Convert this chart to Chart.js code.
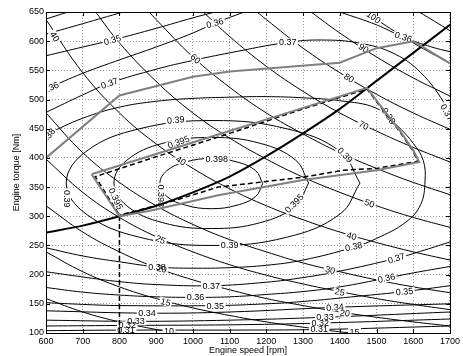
<!DOCTYPE html>
<html>
<head>
<meta charset="utf-8">
<script src="https://cdn.jsdelivr.net/npm/chart.js@4.4.1/dist/chart.umd.min.js"></script>
<style>
  html, body { margin: 0; padding: 0; background: #fff; }
  canvas { display: block; }
</style>
</head>
<body>
<canvas id="map" width="463" height="356"></canvas>
<script>
// axes
const speedTicks = [600, 700, 800, 900, 1000, 1100, 1200, 1300, 1400, 1500, 1600, 1700];
const torqueTicks = [100, 150, 200, 250, 300, 350, 400, 450, 500, 550, 600, 650];

// efficiency contours [rpm, Nm]
const eff398 = [[1190,356],[1171,378],[1120,393],[1050,399],[980,393],[929,378],[910,356],[929,334],[980,319],[1050,313],[1120,319],[1171,334],[1190,356]];
const eff395 = [[1315,357],[1280,396],[1183,425],[1050,435],[918,425],[820,396],[785,357],[820,318],[918,289],[1050,279],[1183,289],[1280,318],[1315,357]];
const eff39 = [[1455,357],[1401,411],[1255,450],[1055,464],[855,450],[709,411],[655,357],[709,304],[855,264],[1055,250],[1255,264],[1401,304],[1455,357]];
const eff38 = [[600,440],[700,468],[800,487],[900,497],[1000,502],[1100,504],[1200,505],[1300,503],[1400,498],[1500,485],[1555,456],[1600,425],[1627,396],[1632,360],[1620,320],[1580,290],[1500,262],[1438,247],[1300,225],[1200,216],[1100,212],[1000,211],[907,213],[800,222],[700,232],[600,246]];
const eff37Top = [[600,478],[700,508],[773,528],[900,552],[1000,567],[1100,580],[1258,598],[1350,602],[1450,597],[1550,578],[1630,540],[1700,480]];
const eff37Low = [[600,205],[700,196],[800,188],[900,183],[1050,181],[1200,187],[1300,195],[1400,206],[1554,228],[1620,240],[1700,256]];
const eff36Top = [[600,518],[700,545],[800,568],[900,590],[1000,614],[1060,631],[1140,650]];
const eff36Right = [[1400,650],[1500,628],[1573,607],[1650,590],[1700,582]];
const eff36Low = [[600,178],[700,170],[800,165],[900,162],[1007,161],[1100,162],[1200,166],[1300,171],[1400,179],[1527,194],[1600,203],[1700,214]];
const eff35Top = [[600,575],[700,590],[781,602],[900,622],[1000,640],[1060,650]];
const eff35Low = [[600,152],[700,149],[800,147],[1061,147],[1200,150],[1300,154],[1450,163],[1576,171],[1700,181]];
const eff34Top = [[600,612],[700,630],[810,650]];
const eff34Low = [[600,138],[875,134],[1100,136],[1387,144],[1700,150]];
const eff33Top = [[600,638],[660,650]];
const eff33Low = [[600,122],[845,120],[1100,122],[1360,127],[1700,136]];
const eff32Low = [[600,112],[821,113],[1100,114],[1347,117],[1700,124]];
const eff31Low = [[600,104],[818,105],[1100,105],[1344,106],[1700,112]];

// constant power lines [rpm, Nm], kW
const power10 = [[600,159],[700,136],[800,119],[900,106],[955,100]];
const power15 = [[600,239],[700,205],[800,179],[900,159],[1000,143],[1100,130],[1200,119],[1300,110],[1400,102],[1432,100]];
const power20 = [[600,318],[700,273],[800,239],[900,212],[1000,191],[1100,174],[1200,159],[1300,147],[1400,136],[1500,127],[1600,119],[1700,112]];
const power25 = [[600,398],[700,341],[800,298],[900,265],[1000,239],[1100,217],[1200,199],[1300,184],[1400,171],[1500,159],[1600,149],[1700,140]];
const power30 = [[600,477],[700,409],[800,358],[900,318],[1000,286],[1100,260],[1200,239],[1300,220],[1400,205],[1500,191],[1600,179],[1700,169]];
const power40 = [[600,637],[700,546],[800,477],[900,424],[1000,382],[1100,347],[1200,318],[1300,294],[1400,273],[1500,255],[1600,239],[1700,225]];
const power50 = [[735,650],[800,597],[900,531],[1000,477],[1100,434],[1200,398],[1300,367],[1400,341],[1500,318],[1600,298],[1700,281]];
const power60 = [[881,650],[900,637],[1000,573],[1100,521],[1200,477],[1300,441],[1400,409],[1500,382],[1600,358],[1700,337]];
const power70 = [[1028,650],[1100,608],[1200,557],[1300,514],[1400,477],[1500,446],[1600,418],[1700,393]];
const power80 = [[1175,650],[1200,637],[1300,588],[1400,546],[1500,509],[1600,477],[1700,449]];
const power90 = [[1322,650],[1400,614],[1500,573],[1600,537],[1700,506]];
const power100 = [[1469,650],[1500,637],[1600,597],[1700,562]];
const power110 = [[1616,650],[1700,618]];

// overlay curves
const optimalLine = [[600,272],[700,284],[800,300],[900,318],[1000,341],[1100,368],[1200,403],[1300,442],[1400,484],[1500,532],[1600,580],[1700,628]];
const maxTorque = [[600,400],[800,507],[1000,539],[1100,548],[1400,563],[1500,588],[1600,600],[1700,562]];
const region = [[724,372],[800,300],[880,309],[1069,336],[1300,362],[1500,379],[1616,393],[1600,413],[1562,448],[1520,482],[1474,520],[1231,472],[1069,440],[724,372]];
const regionDashed = [[800,100],[800,302],[734,368],[900,402],[1100,442],[1300,484],[1474,518],[1520,480],[1562,446],[1600,411],[1612,394],[1500,382],[1411,379],[1300,367],[1069,350],[934,324],[800,302]];

// contour labels: text, rpm, Nm, angle
const powerLabels = [
  ['10', 935, 103, 0], ['15', 926, 153, 15], ['15', 1440, 102, 0],
  ['20', 915, 210, 12], ['20', 1414, 134, 8], ['25', 912, 260, 24], ['25', 1400, 170, 11],
  ['30', 1374, 208, 13], ['40', 624, 608, 57], ['40', 967, 395, 33], ['40', 1432, 266, 16],
  ['50', 1481, 322, 19], ['60', 1007, 570, 42], ['70', 1465, 456, 26], ['80', 1425, 537, 31],
  ['90', 1465, 588, 32], ['100', 1492, 641, 34]
];
const effLabels = [
  ['0.398', 1065, 398, 0], ['0.398', 913, 335, 90],
  ['0.395', 961, 427, -20], ['0.395', 790, 330, 65], ['0.395', 1276, 322, -45],
  ['0.39', 953, 465, -5], ['0.39', 657, 330, 90], ['0.39', 1100, 250, 0], ['0.39', 1414, 405, 45],
  ['0.38', 902, 213, 0], ['0.38', 1438, 248, -12], ['0.38', 1533, 472, 55], ['0.38', 605, 437, -50],
  ['0.37', 773, 528, -20], ['0.37', 1258, 598, 0], ['0.37', 1050, 181, 0], ['0.37', 1554, 228, -18], ['0.37', 1692, 478, 60],
  ['0.36', 612, 520, -25], ['0.36', 1060, 631, -15], ['0.36', 1573, 607, 18], ['0.36', 1007, 161, 0], ['0.36', 1527, 194, -12],
  ['0.35', 781, 602, -15], ['0.35', 1061, 147, 0], ['0.35', 1576, 171, -5],
  ['0.34', 875, 134, 0], ['0.34', 1387, 144, -5],
  ['0.33', 845, 120, 0], ['0.33', 1360, 127, 0],
  ['0.32', 821, 113, 0], ['0.32', 1347, 117, 0],
  ['0.31', 818, 105, 0], ['0.31', 1344, 106, 0]
];

const FONT = '"Liberation Sans", Arial, Helvetica, sans-serif';
const toXY = (pts) => pts.map(([x, y]) => ({ x, y }));

function thin(pts) {
  return { data: toXY(pts), borderColor: '#000', borderWidth: 1, tension: 0.4, order: 2 };
}
function overlay(pts, color, width, dash) {
  return { data: toXY(pts), borderColor: color, borderWidth: width, borderDash: dash || [], tension: 0, order: 1, overlay: true };
}

const contourSets = [eff398, eff395, eff39, eff38, eff37Top, eff37Low, eff36Top, eff36Right, eff36Low,
  eff35Top, eff35Low, eff34Top, eff34Low, eff33Top, eff33Low, eff32Low, eff31Low,
  power10, power15, power20, power25, power30, power40, power50, power60, power70, power80, power90, power100, power110];

const optimal = overlay(optimalLine, '#000', 2);
optimal.tension = 0.3;

const datasets = contourSets.map(thin).concat([
  overlay(maxTorque, '#808080', 2),
  overlay(region, '#808080', 2),
  overlay(regionDashed, '#000', 1.5, [5, 3]),
  optimal
]);

function drawLabels(chart) {
  const { ctx, chartArea: a, scales: { x, y } } = chart;
  const all = powerLabels.concat(effLabels);
  ctx.save();
  ctx.beginPath();
  ctx.rect(a.left, a.top, a.right - a.left, a.bottom - a.top);
  ctx.clip();
  ctx.font = '9px ' + FONT;
  ctx.textAlign = 'center';
  ctx.textBaseline = 'middle';
  all.forEach(([t, sx, ty, ang]) => {
    const w = ctx.measureText(t).width + 3;
    ctx.save();
    ctx.translate(x.getPixelForValue(sx), y.getPixelForValue(ty));
    ctx.rotate(ang * Math.PI / 180);
    ctx.fillStyle = '#fff';
    ctx.fillRect(-w / 2, -4, w, 8);
    ctx.restore();
  });
  ctx.fillStyle = '#000';
  all.forEach(([t, sx, ty, ang]) => {
    ctx.save();
    ctx.translate(x.getPixelForValue(sx), y.getPixelForValue(ty));
    ctx.rotate(ang * Math.PI / 180);
    ctx.fillText(t, 0, 0.5);
    ctx.restore();
  });
  ctx.restore();
}

let textDone = false;
const contourText = {
  id: 'contourText',
  beforeDatasetsDraw() { textDone = false; },
  beforeDatasetDraw(chart, args) {
    if (textDone || !chart.data.datasets[args.index].overlay) return;
    textDone = true;
    drawLabels(chart);
  }
};

// matlab-like box with inward ticks
const frame = {
  id: 'frame',
  afterDatasetsDraw(chart) {
    const { ctx, chartArea: a, scales: { x, y } } = chart;
    ctx.save();
    ctx.strokeStyle = '#000';
    ctx.lineWidth = 1;
    ctx.strokeRect(a.left + 0.5, a.top + 0.5, a.right - a.left, a.bottom - a.top);
    ctx.beginPath();
    speedTicks.forEach((v) => {
      const px = Math.round(x.getPixelForValue(v)) + 0.5;
      ctx.moveTo(px, a.bottom); ctx.lineTo(px, a.bottom - 4);
      ctx.moveTo(px, a.top); ctx.lineTo(px, a.top + 4);
    });
    torqueTicks.forEach((v) => {
      const py = Math.round(y.getPixelForValue(v)) + 0.5;
      ctx.moveTo(a.left, py); ctx.lineTo(a.left + 4, py);
      ctx.moveTo(a.right, py); ctx.lineTo(a.right - 4, py);
    });
    ctx.stroke();
    ctx.restore();
  }
};

new Chart(document.getElementById('map'), {
  type: 'scatter',
  data: { datasets },
  options: {
    responsive: false,
    animation: false,
    events: [],
    layout: { padding: { top: 12, right: 9, left: 0, bottom: 0 } },
    elements: { point: { radius: 0 }, line: { fill: false, capBezierPoints: true } },
    datasets: { scatter: { showLine: true } },
    plugins: { legend: { display: false }, tooltip: { enabled: false } },
    scales: {
      x: {
        type: 'linear',
        min: speedTicks[0],
        max: speedTicks[speedTicks.length - 1],
        afterFit: (s) => { s.height = 23; },
        ticks: { stepSize: speedTicks[1] - speedTicks[0], padding: 3, color: '#000', font: { family: FONT, size: 9 }, callback: (v) => String(v) },
        grid: { color: '#9a9a9a', lineWidth: 1, drawTicks: false },
        border: { display: false, dash: [1, 2] },
        title: { display: true, text: 'Engine speed [rpm]', color: '#000', padding: { top: 0, bottom: 0 }, font: { family: FONT, size: 9 } }
      },
      y: {
        type: 'linear',
        min: torqueTicks[0],
        max: torqueTicks[torqueTicks.length - 1],
        afterFit: (s) => { s.width = 46; },
        ticks: { stepSize: torqueTicks[1] - torqueTicks[0], padding: 2, color: '#000', font: { family: FONT, size: 9 }, callback: (v) => String(v) },
        grid: { color: '#9a9a9a', lineWidth: 1, drawTicks: false },
        border: { display: false, dash: [1, 2] },
        title: { display: true, text: 'Engine torque [Nm]', color: '#000', padding: { top: 11, bottom: 0 }, font: { family: FONT, size: 9 } }
      }
    }
  },
  plugins: [contourText, frame]
});
</script>
</body>
</html>
